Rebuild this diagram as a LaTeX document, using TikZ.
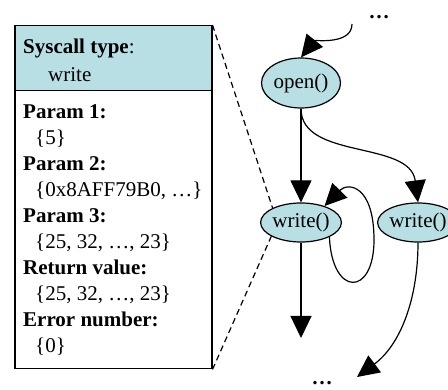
\documentclass[tikz,border=0pt]{standalone}
\usepackage{fontspec}
\setmainfont{Liberation Serif}
\usetikzlibrary{shapes.geometric,arrows.meta}
\definecolor{callblue}{RGB}{184,224,228}
\tikzset{
  call/.style={ellipse, draw, line width=1.2pt, fill=callblue, inner sep=0pt, minimum width=79pt},
  flow/.style={-{Triangle[length=22pt,width=21pt]}, line width=1.2pt},
  field/.style={anchor=base west, inner sep=0pt},
  more/.style={anchor=base, inner sep=0pt, text height=4pt, text depth=0pt},
  zoomline/.style={dash pattern=on 6pt off 4pt, line width=1.2pt}
}
\begin{document}
\begin{tikzpicture}[x=1pt,y=1pt,font=\fontsize{21}{26}\selectfont]
      \useasboundingbox (0,0) rectangle (448,-390);
      %%%%%%%%%%%%%%%%%%%%%%%%%%%%%%%%%%%%%%%%%%%%%%%
      \node[draw, line width=1.5pt, anchor=north west, minimum width=197pt, minimum height=343pt, inner sep=0pt] at (14,-25) (card) {};
      \node[draw, line width=1.5pt, fill=callblue, anchor=north west, minimum width=197pt, minimum height=65pt, inner sep=0pt] at (14,-25) (head) {};
      \node[field] at (23,-54) (h1) {\textbf{Syscall type}:};
      \node[field] at (48,-82) (h2) {write};
      %%%%%%%%%%%%%%%%%%%%%%%%%%%%%%%%%%%%%%%%%%%%%%%
      \node[field] at (23,-119) (p1)  {\textbf{Param 1:}};
      \node[field] at (35,-145) (p2)  {\{5\}};
      \node[field] at (23,-171) (p3)  {\textbf{Param 2:}};
      \node[field] at (35,-197) (p4)  {\{0x8AFF79B0, …\}};
      \node[field] at (23,-223) (p5)  {\textbf{Param 3:}};
      \node[field] at (35,-249) (p6)  {\{25, 32, …, 23\}};
      \node[field] at (23,-275) (p7)  {\textbf{Return value:}};
      \node[field] at (35,-301) (p8)  {\{25, 32, …, 23\}};
      \node[field] at (23,-327) (p9)  {\textbf{Error number:}};
      \node[field] at (35,-353) (p10) {\{0\}};
      %%%%%%%%%%%%%%%%%%%%%%%%%%%%%%%%%%%%%%%%%%%%%%%
      \node[more] at (379,-19) (dtop) {\textbf{…}};
      \coordinate (in1) at (352,-24);
      \node[call, minimum height=50pt] at (301,-83) (op) {open()};
      \node[call, minimum height=39pt] at (301,-222.5) (w1) {write()};
      \node[call, minimum height=39pt] at (418,-222.5) (w2) {write()};
      \coordinate (out1) at (301,-338);
      \coordinate (out2) at (357,-377);
      \node[more] at (322,-385) (dbot) {\textbf{…}};
      %%%%%%%%%%%%%%%%%%%%%%%%%%%%%%%%%%%%%%%%%%%%%%%
      \draw[flow] (in1) .. controls (352,-45) and (315,-40) .. (op.north);
      \draw[flow] (op) -- (w1);
      \draw[flow] (op.south) .. controls (301,-160) and (410,-140) .. (w2.north);
      \draw[flow] (w1.-27) .. controls (332,-297) and (374,-297) .. (374,-240)
                           .. controls (374,-185) and (348,-182) .. (w1.35);
      \draw[flow] (w1) -- (out1);
      \draw[flow] (w2.south) .. controls (418,-300) and (400,-345) .. (out2);
      %%%%%%%%%%%%%%%%%%%%%%%%%%%%%%%%%%%%%%%%%%%%%%%
      \draw[zoomline] (card.north east) -- (w1.153)
                      (card.south east) -- (w1.205);
\end{tikzpicture}
\end{document}
